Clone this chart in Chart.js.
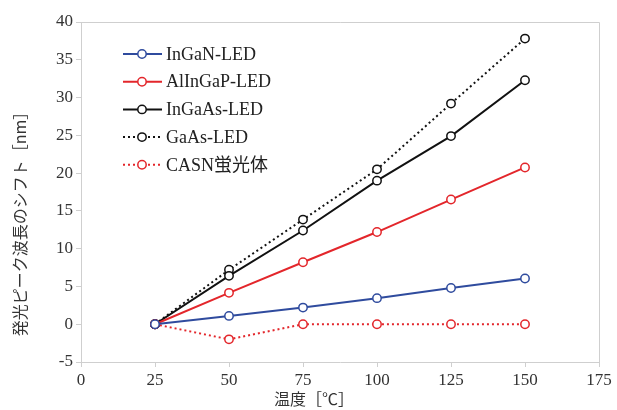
<!DOCTYPE html>
<html>
<head>
<meta charset="utf-8">
<script src="https://cdn.jsdelivr.net/npm/chart.js@4/dist/chart.umd.min.js"></script>
<style>
  body { margin: 0; background: #fff; }
</style>
</head>
<body>
<canvas id="chart" width="617" height="410"></canvas>
<script>
// temperature (°C) and peak wavelength shift (nm)
const temps = [25, 50, 75, 100, 125, 150];
const ingan = [0, 1.1, 2.2, 3.45, 4.8, 6.05];
const alingap = [0, 4.15, 8.2, 12.2, 16.5, 20.75];
const ingaas = [0, 6.4, 12.4, 19.0, 24.9, 32.3];
const gaas = [0, 7.2, 13.85, 20.5, 29.2, 37.8];
const casn = [0, -2, 0, 0, 0, 0];

const seriesNames = ['InGaN-LED', 'AlInGaP-LED', 'InGaAs-LED', 'GaAs-LED', 'CASN蛍光体'];

const BLUE = '#2f4b9e';
const RED = '#e3262b';
const BLACK = '#111111';
const GRID = '#cfcfcf';
const SERIF = "'Liberation Serif', 'Noto Sans CJK JP', serif";
const GOTHIC = "'Noto Sans CJK JP', sans-serif";

const toPoints = (vals) => vals.map((v, i) => ({ x: temps[i], y: v }));

function series(label, vals, color, dashed) {
    return {
        label: label,
        data: toPoints(vals),
        borderColor: color,
        borderWidth: 2,
        borderDash: dashed ? [2, 3] : [],
        pointRadius: 4.2,
        pointBorderWidth: 1.5,
        pointBackgroundColor: '#ffffff',
        pointBorderColor: color,
        fill: false,
        tension: 0
    };
}

// box around the plot area + legend + axis titles
const decorations = {
    id: 'decorations',
    afterDraw(chart) {
        const ctx = chart.ctx;
        const a = chart.chartArea;
        ctx.save();
        ctx.strokeStyle = GRID;
        ctx.lineWidth = 1;
        ctx.beginPath();
        ctx.moveTo(a.left, a.top + 0.5);
        ctx.lineTo(a.right + 0.5, a.top + 0.5);
        ctx.lineTo(a.right + 0.5, a.bottom);
        ctx.stroke();

        // legend inside the plot
        const x0 = 123, x1 = 162, mx = 142, tx = 166;
        chart.data.datasets.forEach((ds, i) => {
            const y = 54 + i * 27.7;
            ctx.strokeStyle = ds.borderColor;
            ctx.lineWidth = ds.borderWidth;
            ctx.setLineDash(ds.borderDash);
            ctx.beginPath();
            ctx.moveTo(x0, y);
            ctx.lineTo(x1, y);
            ctx.stroke();
            ctx.setLineDash([]);
            ctx.lineWidth = ds.pointBorderWidth;
            ctx.fillStyle = '#fff';
            ctx.beginPath();
            ctx.arc(mx, y, 4.2, 0, Math.PI * 2);
            ctx.fill();
            ctx.stroke();
            ctx.fillStyle = '#222';
            ctx.font = '18px ' + SERIF;
            ctx.textAlign = 'left';
            ctx.textBaseline = 'middle';
            ctx.fillText(ds.label, tx, y + 1);
        });

        // axis titles
        ctx.fillStyle = '#333';
        ctx.font = '16px ' + GOTHIC;
        ctx.textAlign = 'center';
        ctx.textBaseline = 'middle';
        ctx.save();
        ctx.translate(20, 220);
        ctx.rotate(-Math.PI / 2);
        ctx.fillText('発光ピーク波長のシフト［nm］', 0, 0);
        ctx.restore();
        ctx.font = '16px ' + SERIF;
        ctx.fillText('温度［℃］', 314, 401);
        ctx.restore();
    }
};

new Chart(document.getElementById('chart'), {
    type: 'line',
    data: {
        datasets: [
            series(seriesNames[0], ingan, BLUE, false),
            series(seriesNames[1], alingap, RED, false),
            series(seriesNames[2], ingaas, BLACK, false),
            series(seriesNames[3], gaas, BLACK, true),
            series(seriesNames[4], casn, RED, true)
        ]
    },
    options: {
        responsive: false,
        animation: false,
        layout: { padding: { left: 0, top: 22, right: 18, bottom: 0 } },
        plugins: {
            legend: { display: false },
            tooltip: { enabled: false }
        },
        scales: {
            x: {
                type: 'linear',
                min: 0,
                max: 175,
                afterFit: (scale) => { scale.height = 48; },
                ticks: {
                    stepSize: 25,
                    color: '#333',
                    padding: 3,
                    maxRotation: 0,
                    font: { family: SERIF, size: 17 }
                },
                grid: { drawOnChartArea: false, color: GRID, tickLength: 5 },
                border: { color: GRID }
            },
            y: {
                min: -5,
                max: 40,
                afterFit: (scale) => { scale.width = 81; },
                ticks: {
                    stepSize: 5,
                    color: '#333',
                    padding: 3,
                    font: { family: SERIF, size: 17 }
                },
                grid: { drawOnChartArea: false, color: GRID, tickLength: 5 },
                border: { color: GRID }
            }
        }
    },
    plugins: [decorations]
});
</script>
</body>
</html>
